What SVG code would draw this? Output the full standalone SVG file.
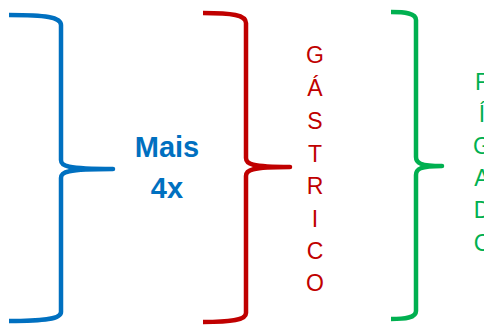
<svg xmlns="http://www.w3.org/2000/svg" width="484" height="325" viewBox="0 0 484 325">
<style>
.br{fill:none;stroke-width:4.5;stroke-linecap:butt;stroke-linejoin:round}
.v{font-family:"Liberation Sans",Arial,sans-serif;font-size:23px;text-anchor:middle}
.m{font-family:"Liberation Sans",Arial,sans-serif;font-size:29px;font-weight:bold;text-anchor:middle;fill:#0070C0}
</style>
<rect width="484" height="325" fill="#fff"/>
<g id="connectors">
<path id="brace-blue" class="br" stroke="#0070C0" d="M9,15 C45,15 61,17 61,25 V160 C61,166 66,169 113,169 C66,169 61,172 61,178 V312 C61,319 45,321 9,321"/>
<path id="brace-red" class="br" stroke="#C00000" d="M203,13 C232,13 246,15 246,23 V158 C246,164 251,167 290,167 C251,167 246,170 246,176 V313 C246,320 232,322 203,322"/>
<path id="brace-green" class="br" stroke="#00B050" d="M391,12 C405,12 416,13 416,20 V157 C416,163 420,166 442,166 C420,166 416,169 416,175 V311 C416,318 405,319 391,319"/>
</g>
<g id="mais">
<text class="m" x="167" y="157">Mais</text>
<text class="m" x="167" y="198">4x</text>
</g>
<g id="gastrico" fill="#C00000">
<text class="v" x="315" y="63">G</text>
<text class="v" x="315" y="96">Á</text>
<text class="v" x="315" y="129">S</text>
<text class="v" x="315" y="162">T</text>
<text class="v" x="315" y="194">R</text>
<text class="v" x="315" y="227">I</text>
<text class="v" x="315" y="259">C</text>
<text class="v" x="315" y="291">O</text>
</g>
<g id="figado" fill="#00B050">
<text class="v" x="482" y="90">F</text>
<text class="v" x="482" y="122">Í</text>
<text class="v" x="482" y="154">G</text>
<text class="v" x="482" y="186">A</text>
<text class="v" x="482" y="218">D</text>
<text class="v" x="482" y="251">C</text>
</g>
</svg>
